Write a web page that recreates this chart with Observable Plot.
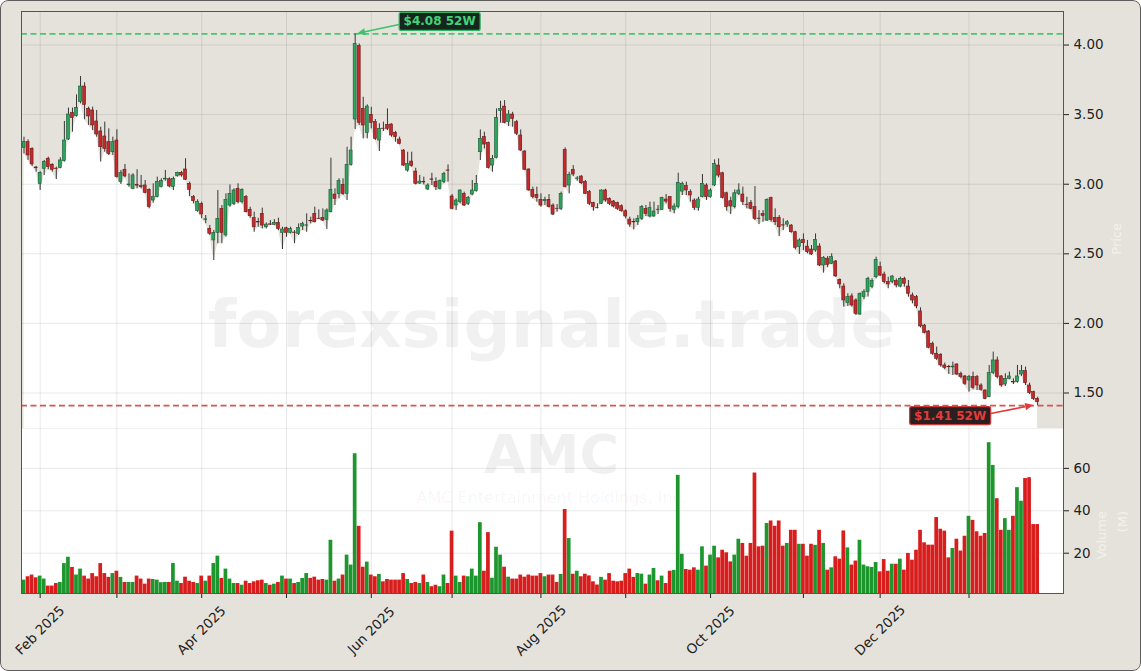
<!DOCTYPE html>
<html><head><meta charset="utf-8">
<script src="https://cdn.jsdelivr.net/npm/d3@7"></script>
<script src="https://cdn.jsdelivr.net/npm/@observablehq/plot@0.6"></script>
<style>
html,body{margin:0;padding:0;background:#fff;}
#fig{position:relative;width:1141px;height:671px;background:#e5e2dc;border-radius:8px;overflow:hidden;font-family:"DejaVu Sans",sans-serif;}
#fig svg{position:absolute;left:0;}
#frame{position:absolute;left:21px;top:11px;width:1043px;height:583px;border:1px solid #555;box-sizing:border-box;pointer-events:none;}
#outer{position:absolute;left:0;top:0;width:1141px;height:671px;border:1.5px solid #5e5e5e;border-radius:8px;box-sizing:border-box;pointer-events:none;}
</style></head><body><div id="fig"></div>
<script>
// ---- data (AMC daily, ~Jan 28 2025 .. Jan 28 2026, trading-day index) ----
const open = [
3.262,3.302,3.254,3.120,3.003,3.111,3.183,3.140,3.112,3.116,
3.166,3.321,3.511,3.489,3.590,3.702,3.542,3.530,3.451,3.379,
3.343,3.302,3.230,3.314,3.015,3.104,2.992,2.967,2.996,2.986,
2.991,2.960,2.883,2.907,2.979,3.034,3.036,2.979,3.058,3.082,
3.106,3.003,2.907,2.807,2.859,2.744,2.680,2.596,2.651,2.823,
2.632,2.847,2.859,2.967,2.871,2.907,2.816,2.756,2.728,2.787,
2.691,2.712,2.708,2.722,2.651,2.684,2.651,2.653,2.643,2.696,
2.702,2.736,2.787,2.752,2.758,2.744,2.799,2.926,2.931,2.995,
2.931,3.139,3.465,3.992,3.541,3.369,3.498,3.446,3.314,3.399,
3.426,3.429,3.369,3.321,3.242,3.098,3.163,3.091,3.005,3.016,
2.962,3.035,3.015,2.967,3.015,3.099,2.912,2.847,2.871,2.931,
2.859,2.926,2.950,3.230,3.338,3.297,3.134,3.189,3.525,3.558,
3.446,3.501,3.446,3.350,3.235,3.106,2.959,2.923,2.888,2.878,
2.888,2.847,2.824,2.823,3.247,2.991,3.103,3.038,3.055,3.015,
2.943,2.864,2.831,2.859,2.955,2.895,2.876,2.864,2.842,2.806,
2.746,2.729,2.727,2.751,2.823,2.768,2.768,2.817,2.816,2.890,
2.907,2.816,2.835,2.947,2.986,2.943,2.883,2.830,2.907,2.991,
2.907,2.991,3.134,3.079,2.935,2.878,2.835,2.931,2.926,2.853,
2.864,2.835,2.753,2.787,2.739,2.900,2.758,2.758,2.705,2.710,
2.703,2.655,2.548,2.600,2.552,2.531,2.524,2.552,2.416,2.465,
2.428,2.445,2.313,2.265,2.146,2.194,2.165,2.064,2.189,2.225,
2.261,2.332,2.404,2.351,2.297,2.297,2.304,2.265,2.320,2.265,
2.201,2.189,2.086,1.985,1.942,1.854,1.782,1.775,1.698,1.688,
1.684,1.705,1.638,1.619,1.590,1.614,1.614,1.554,1.518,1.470,
1.643,1.734,1.619,1.561,1.602,1.579,1.578,1.633,1.657,1.554,
1.506,1.458];
const high = [
3.338,3.319,3.262,3.128,3.090,3.171,3.195,3.147,3.123,3.190,
3.451,3.547,3.547,3.642,3.774,3.729,3.554,3.554,3.530,3.410,
3.446,3.398,3.338,3.391,3.099,3.142,3.075,3.075,3.104,3.063,
3.027,2.967,3.003,3.051,3.039,3.099,3.046,3.051,3.087,3.092,
3.183,3.015,2.919,2.888,2.871,2.775,2.704,2.668,2.955,2.847,
2.931,2.995,2.967,3.003,2.967,2.919,2.835,2.799,2.756,2.828,
2.722,2.739,2.746,2.756,2.691,2.691,2.691,2.667,2.715,2.727,
2.787,2.763,2.835,2.816,2.823,2.823,3.187,2.967,3.039,3.039,
3.266,3.338,4.080,4.008,3.625,3.570,3.553,3.465,3.434,3.446,
3.541,3.434,3.379,3.338,3.249,3.230,3.230,3.115,3.063,3.051,
3.003,3.079,3.046,3.031,3.086,3.139,2.926,2.895,2.959,2.943,
2.912,3.027,3.063,3.390,3.374,3.302,3.206,3.541,3.596,3.601,
3.529,3.517,3.458,3.390,3.242,3.110,2.979,2.979,2.931,2.907,
2.926,2.859,2.854,2.943,3.261,3.086,3.134,3.055,3.062,3.027,
2.955,2.871,2.859,2.959,2.964,2.902,2.883,2.871,2.852,2.816,
2.763,2.751,2.775,2.847,2.847,2.871,2.871,2.847,2.907,2.926,
2.912,2.859,3.079,3.015,3.015,2.960,2.895,2.907,3.070,3.003,
2.967,3.175,3.182,3.086,2.943,2.907,2.959,3.003,2.979,2.907,
2.883,2.983,2.811,2.811,2.895,2.907,2.823,2.775,2.751,2.739,
2.710,2.662,2.608,2.643,2.596,2.560,2.643,2.572,2.480,2.480,
2.500,2.452,2.320,2.285,2.213,2.213,2.177,2.218,2.242,2.332,
2.320,2.476,2.440,2.368,2.332,2.344,2.320,2.332,2.332,2.308,
2.218,2.201,2.112,1.992,1.949,1.866,1.830,1.782,1.715,1.698,
1.722,1.710,1.650,1.626,1.626,1.650,1.626,1.566,1.523,1.698,
1.794,1.758,1.626,1.638,1.650,1.602,1.698,1.698,1.686,1.571,
1.513,1.470];
const low = [
3.218,3.171,3.128,3.087,2.955,3.063,3.104,3.087,3.034,3.111,
3.159,3.314,3.374,3.482,3.578,3.463,3.422,3.386,3.338,3.159,
3.230,3.207,3.207,3.044,2.998,3.046,2.979,2.960,2.967,2.967,
2.931,2.823,2.864,2.902,2.974,3.022,2.974,2.955,3.051,3.051,
3.027,2.912,2.859,2.799,2.752,2.716,2.632,2.452,2.572,2.572,
2.620,2.835,2.847,2.859,2.859,2.794,2.756,2.655,2.691,2.679,
2.679,2.703,2.703,2.667,2.531,2.619,2.643,2.572,2.632,2.667,
2.655,2.715,2.722,2.746,2.732,2.674,2.794,2.847,2.895,2.919,
2.883,3.130,3.393,3.422,3.326,3.326,3.398,3.314,3.235,3.379,
3.386,3.338,3.302,3.283,3.127,3.086,3.122,2.995,2.998,2.995,
2.955,2.991,2.955,2.959,3.003,3.015,2.816,2.811,2.859,2.840,
2.847,2.917,2.943,3.170,3.254,3.110,3.086,3.182,3.438,3.434,
3.414,3.410,3.350,3.237,3.098,2.950,2.895,2.871,2.835,2.847,
2.830,2.775,2.799,2.811,2.974,2.931,3.055,3.022,2.998,2.926,
2.847,2.806,2.823,2.854,2.871,2.847,2.830,2.811,2.799,2.751,
2.691,2.672,2.703,2.739,2.768,2.758,2.763,2.782,2.811,2.859,
2.799,2.787,2.823,2.919,2.919,2.871,2.811,2.806,2.902,2.883,
2.900,2.983,3.046,2.895,2.806,2.782,2.823,2.919,2.847,2.823,
2.816,2.739,2.710,2.727,2.732,2.727,2.703,2.624,2.667,2.691,
2.648,2.528,2.495,2.524,2.500,2.488,2.512,2.409,2.361,2.400,
2.423,2.332,2.249,2.117,2.122,2.117,2.057,2.057,2.170,2.189,
2.249,2.320,2.337,2.285,2.249,2.285,2.256,2.256,2.261,2.189,
2.141,2.105,1.968,1.925,1.818,1.770,1.734,1.686,1.667,1.633,
1.626,1.626,1.602,1.554,1.506,1.523,1.518,1.513,1.451,1.466,
1.633,1.602,1.542,1.547,1.595,1.561,1.571,1.619,1.554,1.489,
1.446,1.410];
const close = [
3.302,3.207,3.142,3.115,3.082,3.159,3.123,3.104,3.108,3.171,
3.314,3.501,3.475,3.549,3.702,3.570,3.487,3.422,3.357,3.266,
3.254,3.218,3.302,3.051,3.080,3.056,2.998,3.063,2.990,2.980,
2.938,2.835,2.907,3.015,3.022,3.040,2.984,3.039,3.082,3.063,
3.032,2.960,2.879,2.871,2.783,2.748,2.644,2.651,2.751,2.651,
2.888,2.931,2.955,2.871,2.960,2.799,2.770,2.691,2.725,2.703,
2.710,2.709,2.722,2.679,2.675,2.651,2.679,2.650,2.686,2.713,
2.705,2.734,2.727,2.749,2.739,2.811,2.959,2.895,3.022,2.931,
3.139,3.242,4.008,3.441,3.422,3.558,3.441,3.326,3.398,3.397,
3.398,3.350,3.338,3.290,3.134,3.146,3.130,3.003,3.019,3.013,
2.991,3.032,2.979,3.022,3.074,3.097,2.823,2.883,2.955,2.847,
2.902,2.955,3.003,3.326,3.285,3.117,3.182,3.477,3.541,3.441,
3.501,3.469,3.362,3.242,3.103,2.955,2.907,2.902,2.847,2.888,
2.835,2.782,2.822,2.931,2.979,3.067,3.070,3.041,3.007,2.931,
2.859,2.835,2.828,2.955,2.883,2.859,2.840,2.823,2.806,2.768,
2.710,2.726,2.751,2.835,2.787,2.828,2.804,2.815,2.902,2.875,
2.823,2.840,3.010,3.003,2.955,2.919,2.830,2.890,3.003,2.907,
2.955,3.146,3.062,2.902,2.835,2.840,2.935,2.955,2.871,2.850,
2.823,2.751,2.751,2.772,2.888,2.744,2.727,2.691,2.703,2.727,
2.655,2.543,2.596,2.576,2.512,2.495,2.600,2.416,2.471,2.420,
2.476,2.337,2.280,2.165,2.189,2.129,2.069,2.213,2.225,2.320,
2.304,2.457,2.344,2.297,2.280,2.337,2.273,2.320,2.285,2.213,
2.165,2.122,1.978,1.930,1.825,1.782,1.746,1.698,1.681,1.685,
1.690,1.633,1.614,1.566,1.614,1.537,1.554,1.523,1.458,1.643,
1.734,1.614,1.554,1.602,1.619,1.576,1.619,1.657,1.571,1.499,
1.458,1.434];
const volume = [
7.3,8.9,9.7,8.4,9.2,7.8,4.5,4.5,5.7,6.2,
15.1,18.1,13.3,9.7,12.5,9.2,7.8,10.4,8.9,15.1,
10.4,8.6,10.4,11.5,8.6,6.2,6.2,6.2,9.2,7.8,
5.4,7.8,7.6,7.3,6.1,6.2,6.2,15.1,6.8,5.7,
8.7,6.8,6.2,5.7,9.2,6.8,9.2,15.1,18.6,8.1,
12.5,7.8,5.7,5.7,4.9,6.8,5.7,6.5,7.0,7.3,
5.7,4.9,5.4,6.2,9.2,7.8,7.8,5.7,6.2,8.1,
10.4,8.1,8.7,7.3,7.6,7.3,26.1,6.8,7.8,9.7,
19.1,14.4,66.9,32.7,13.4,15.8,9.7,8.9,10.0,6.5,
7.6,7.3,7.3,7.3,10.4,7.6,5.7,6.2,5.7,9.7,
6.2,4.2,4.9,4.2,9.7,5.7,30.4,9.2,6.2,9.2,
8.9,12.5,9.2,34.4,11.5,29.7,8.2,22.8,19.1,13.4,
8.7,7.8,7.8,9.7,8.7,9.7,9.2,9.2,10.4,8.9,
9.7,9.7,6.2,10.0,40.6,26.9,10.1,11.5,8.9,10.1,
9.3,6.5,5.0,8.6,7.3,10.4,6.8,6.5,6.8,10.4,
12.5,8.6,10.4,10.1,5.4,9.7,12.8,7.0,9.2,5.7,
11.5,11.9,56.7,19.5,12.3,12.0,13.1,12.0,23.0,13.9,
19.1,23.3,17.8,21.4,20.2,15.9,19.1,26.6,24.6,18.6,
24.6,57.8,23.0,23.3,34.0,35.2,32.7,35.2,23.3,24.6,
30.8,30.8,24.2,24.2,18.6,24.2,23.7,30.8,24.6,12.0,
13.1,18.3,17.2,30.5,22.5,14.4,16.3,26.1,14.4,13.6,
13.3,15.6,11.2,17.0,11.5,14.8,14.8,17.2,12.0,19.9,
16.7,21.4,30.8,24.9,23.8,23.8,36.8,31.3,30.4,17.8,
22.2,26.6,21.0,28.0,37.4,35.5,30.1,28.0,29.3,72.1,
61.4,45.7,30.8,36.3,30.8,37.4,50.9,44.5,55.2,55.6,
33.5,33.5];
// first trading day of each month (bar index) and labels
const monthIdx = [4, 23, 44, 65, 86, 106, 128, 149, 170, 193, 212, 234];
const monthLabels = ["Feb 2025", "", "Apr 2025", "", "Jun 2025", "", "Aug 2025", "", "Oct 2025", "", "Dec 2025", ""];
const priceTicks = [1.5, 2.0, 2.5, 3.0, 3.5, 4.0];
const volTicks = [20, 40, 60];
const hi52 = 4.08, hiIdx = 82;
const lo52 = 1.41, loIdx = 251;
const hiLabel = "$4.08 52W", loLabel = "$1.41 52W";
const watermark = "forexsignale.trade", ticker = "AMC", company = "AMC Entertainment Holdings, Inc.";

// ---- build ----
const BG = "#e5e2dc";
const data = d3.range(close.length).map(i => ({i, o: open[i], h: high[i], l: low[i], c: close[i], v: volume[i], up: close[i] >= open[i]}));
const labels = monthIdx.map((m, k) => ({i: m, label: monthLabels[k]})).filter(d => d.label);
const xDomain = [-0.62, 257.4];
const W = 1141, ML = 21, MR = 78;
const PRICE_H = 428;
const pDomain = [1.245, 4.241];
const vDomain = [1.0, 78.8];
const gridStyle = {stroke: "#000", strokeOpacity: 0.09};
const baseStyle = {background: "transparent", fontFamily: "DejaVu Sans", fontSize: "13.5px", color: "#222", overflow: "visible"};

const pricePlot = Plot.plot({
  width: W, height: PRICE_H, marginTop: 11, marginBottom: 0, marginLeft: ML, marginRight: MR,
  style: baseStyle,
  x: {domain: xDomain, axis: null},
  y: {domain: pDomain, axis: null},
  marks: [
    Plot.frame({fill: BG, stroke: null}),
    Plot.areaY(data, {x: "i", y1: pDomain[0], y2: "l", fill: "#fff"}),
    Plot.gridY({ticks: priceTicks, ...gridStyle}),
    Plot.gridX({ticks: monthIdx, ...gridStyle}),
    Plot.text([watermark], {text: d => d, frameAnchor: "top", lineAnchor: "middle", dx: 9, dy: 314, fontSize: 66, fontWeight: "bold", fill: "#000", fillOpacity: 0.055}),
    Plot.text(["Price"], {text: d => d, frameAnchor: "right", dx: 53, dy: 3, rotate: -90, fontSize: 13, fill: "#f3f1ed"}),
    Plot.ruleY([hi52], {stroke: "#46c86e", strokeWidth: 1.7, strokeDasharray: "6,3.5"}),
    Plot.ruleY([lo52], {stroke: "#dc5252", strokeWidth: 1.7, strokeDasharray: "6,3.5"}),
    Plot.ruleX(data, {x: "i", y1: "l", y2: "h", stroke: "#363636", strokeWidth: 1}),
    Plot.rect(data, {
      x1: d => d.i - 0.37, x2: d => d.i + 0.37,
      y1: d => Math.min(d.o, d.c), y2: d => Math.max(d.o, d.c),
      fill: d => d.up ? "#2ea35c" : "#c42a2a",
      stroke: d => d.up ? "#1d5633" : "#6a1919", strokeWidth: 0.6
    }),
    Plot.axisY({anchor: "right", ticks: priceTicks, tickFormat: d3.format(".2f"), tickSize: 5, tickPadding: 5, label: null})
  ]
});
pricePlot.style.top = "0px";

const volPlot = Plot.plot({
  width: W, height: 671 - PRICE_H, marginTop: 0, marginBottom: 78, marginLeft: ML, marginRight: MR,
  style: baseStyle,
  x: {domain: xDomain, axis: null},
  y: {domain: vDomain, axis: null},
  marks: [
    Plot.frame({fill: "#fff", stroke: null}),
    Plot.gridY({ticks: volTicks, ...gridStyle}),
    Plot.gridX({ticks: monthIdx, ...gridStyle}),
    Plot.text([ticker], {text: d => d, frameAnchor: "top", lineAnchor: "middle", dx: 9, dy: 27, fontSize: 54, fontWeight: "bold", fill: "#000", fillOpacity: 0.06}),
    Plot.text([company], {text: d => d, frameAnchor: "top", lineAnchor: "middle", dx: 9, dy: 69, fontSize: 16, fill: "#000", fillOpacity: 0.045}),
    Plot.text(["Volume\n(M)"], {text: d => d, frameAnchor: "right", dx: 46, rotate: -90, fontSize: 13, lineHeight: 1.6, fill: "#f3f1ed"}),
    Plot.rect(data, {
      x1: d => d.i - 0.46, x2: d => d.i + 0.46, y1: vDomain[0], y2: "v",
      fill: d => d.up ? "#1e962e" : "#d81d1d"
    }),
    Plot.axisY({anchor: "right", ticks: volTicks, tickSize: 5, tickPadding: 5, label: null}),
    Plot.axisX({anchor: "bottom", ticks: monthIdx, tickFormat: () => "", tickSize: 5, label: null}),
    Plot.text(labels, {x: "i", text: "label", frameAnchor: "bottom", dy: 37, rotate: -45, textAnchor: "middle", lineAnchor: "middle", fontSize: 13.5, fill: "#222"})
  ]
});
volPlot.style.top = PRICE_H + "px";

const fig = document.getElementById("fig");
fig.appendChild(pricePlot);
fig.appendChild(volPlot);
const fr = document.createElement("div"); fr.id = "frame"; fig.appendChild(fr);
const ou = document.createElement("div"); ou.id = "outer"; fig.appendChild(ou);

// ---- 52W annotations (positioned through the plot's scales) ----
const sx = pricePlot.scale("x"), sy = pricePlot.scale("y");
const g = d3.select(pricePlot).append("g");
function arrow(x1, y1, x2, y2, color) {
  const dx = x2 - x1, dy = y2 - y1, len = Math.hypot(dx, dy);
  const ux = dx / len, uy = dy / len, hl = 8, hw = 3.6;
  const bx = x2 - ux * hl, by = y2 - uy * hl;
  g.append("line").attr("x1", x1).attr("y1", y1).attr("x2", bx).attr("y2", by)
    .attr("stroke", color).attr("stroke-width", 1.6);
  g.append("path").attr("d", `M${x2},${y2}L${bx - uy * hw},${by + ux * hw}L${bx + uy * hw},${by - ux * hw}Z`).attr("fill", color);
}
function badge(cx, cy, text, fg, border, bg) {
  const w = 81, h = 18;
  g.append("rect").attr("x", cx - w / 2).attr("y", cy - h / 2).attr("width", w).attr("height", h)
    .attr("rx", 2).attr("fill", bg).attr("stroke", border).attr("stroke-width", 1.2);
  g.append("text").attr("x", cx).attr("y", cy).attr("text-anchor", "middle").attr("dominant-baseline", "central")
    .attr("font-family", "DejaVu Sans").attr("font-weight", "bold").attr("font-size", 12).attr("fill", fg).text(text);
  return {left: cx - w / 2, right: cx + w / 2};
}
{
  const px = sx.apply(hiIdx), py = sy.apply(hi52);
  const cx = px + 85, cy = py - 12;
  const b = badge(cx, cy, hiLabel, "#44d27c", "#2fb565", "#17261d");
  arrow(b.left, cy + 3, px + 2.5, py, "#3cc46a");
}
{
  const px = sx.apply(loIdx), py = sy.apply(lo52);
  const cx = px - 87, cy = py + 10.5;
  const b = badge(cx, cy, loLabel, "#e23b3b", "#cc3a3a", "#2c1f1f");
  arrow(b.right, cy - 2, px - 4, py, "#e03a3a");
}
</script></body></html>
